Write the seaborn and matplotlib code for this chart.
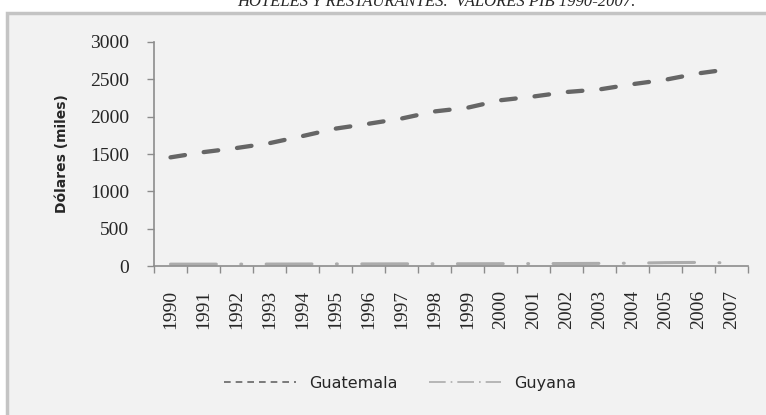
import seaborn as sns
import matplotlib.pyplot as plt
import pandas as pd
from matplotlib.lines import Line2D
from matplotlib.patches import Rectangle

# datos
years = [str(y) for y in range(1990, 2008)]
guatemala = [1455, 1525, 1580, 1645, 1740, 1840, 1905, 1975, 2070,
             2120, 2220, 2270, 2330, 2365, 2435, 2495, 2580, 2640]
guyana = [25, 25, 25, 26, 27, 28, 28, 29, 30,
          30, 31, 32, 33, 35, 38, 45, 48, 42]
yticks = [0, 500, 1000, 1500, 2000, 2500, 3000]

df = pd.DataFrame({'pos': range(len(years)), 'Guatemala': guatemala, 'Guyana': guyana})

sns.set_style("white")
fig = plt.figure(figsize=(7.66, 4.15), dpi=100, facecolor='white')

# marco gris del área del gráfico
fig.patches.append(Rectangle((7 / 766, -0.05), 1.0, 1 - 13 / 415 + 0.05,
                             transform=fig.transFigure, facecolor='#f2f2f2',
                             edgecolor='#c4c4c4', lw=2.5, zorder=-5))

ax = fig.add_axes([154 / 766, 1 - 266 / 415, (748 - 154) / 766, (266 - 42) / 415])
ax.set_facecolor('#f2f2f2')
ax.set_zorder(2)

sns.lineplot(data=df, x='pos', y='Guatemala', ax=ax, color='#666666', lw=3.1,
             linestyle=(0, (3.4, 4.4)), dash_capstyle='round')
sns.lineplot(data=df, x='pos', y='Guyana', ax=ax, color='#acacac', lw=2.2,
             linestyle=(0, (15, 8, 0.3, 8)), dash_capstyle='round')

ax.set_xlim(-0.5, len(years) - 0.5)
ax.set_ylim(0, 3000)
ax.set_yticks(yticks)
ax.set_yticklabels([str(v) for v in yticks], family='Liberation Serif', fontsize=14)
ax.set_xticks(range(len(years)))
ax.set_xticklabels(years, rotation=90, family='Liberation Serif', fontsize=14)
ax.set_xticks([i - 0.5 for i in range(len(years) + 1)], minor=True)
ax.tick_params(axis='x', which='major', length=0, pad=17)
ax.tick_params(axis='x', which='minor', length=5, width=1, color='#8c8c8c', direction='out')
ax.tick_params(axis='y', length=5, width=1, color='#8c8c8c', direction='out', pad=13, left=True)
ax.tick_params(axis='x', which='minor', bottom=True)

for s in ['top', 'right']:
    ax.spines[s].set_visible(False)
for s in ['left', 'bottom']:
    ax.spines[s].set_color('#8c8c8c')
    ax.spines[s].set_linewidth(1.2)

ax.set_xlabel('')
ax.set_ylabel('Dólares (miles)', family='DejaVu Sans', fontweight='bold', fontsize=10, labelpad=15)

handles = [Line2D([], [], color='#666666', lw=1.2, linestyle=(0, (4, 3))),
           Line2D([], [], color='#acacac', lw=1.2, linestyle=(0, (10, 3, 1, 3)))]
fig.legend(handles, ['Guatemala', 'Guyana'], ncol=2, frameon=False, loc='center',
           bbox_to_anchor=(400 / 766, 1 - 383 / 415), handlelength=4.5,
           columnspacing=2.0, prop={'family': 'DejaVu Sans', 'size': 11.5})

fig.text(436 / 766, 1 - 6 / 415, 'HOTELES Y RESTAURANTES.  VALORES PIB 1990-2007.',
         ha='center', va='baseline', style='italic', family='Liberation Serif', fontsize=12)

fig.savefig('out.png', dpi=100, facecolor='white')
